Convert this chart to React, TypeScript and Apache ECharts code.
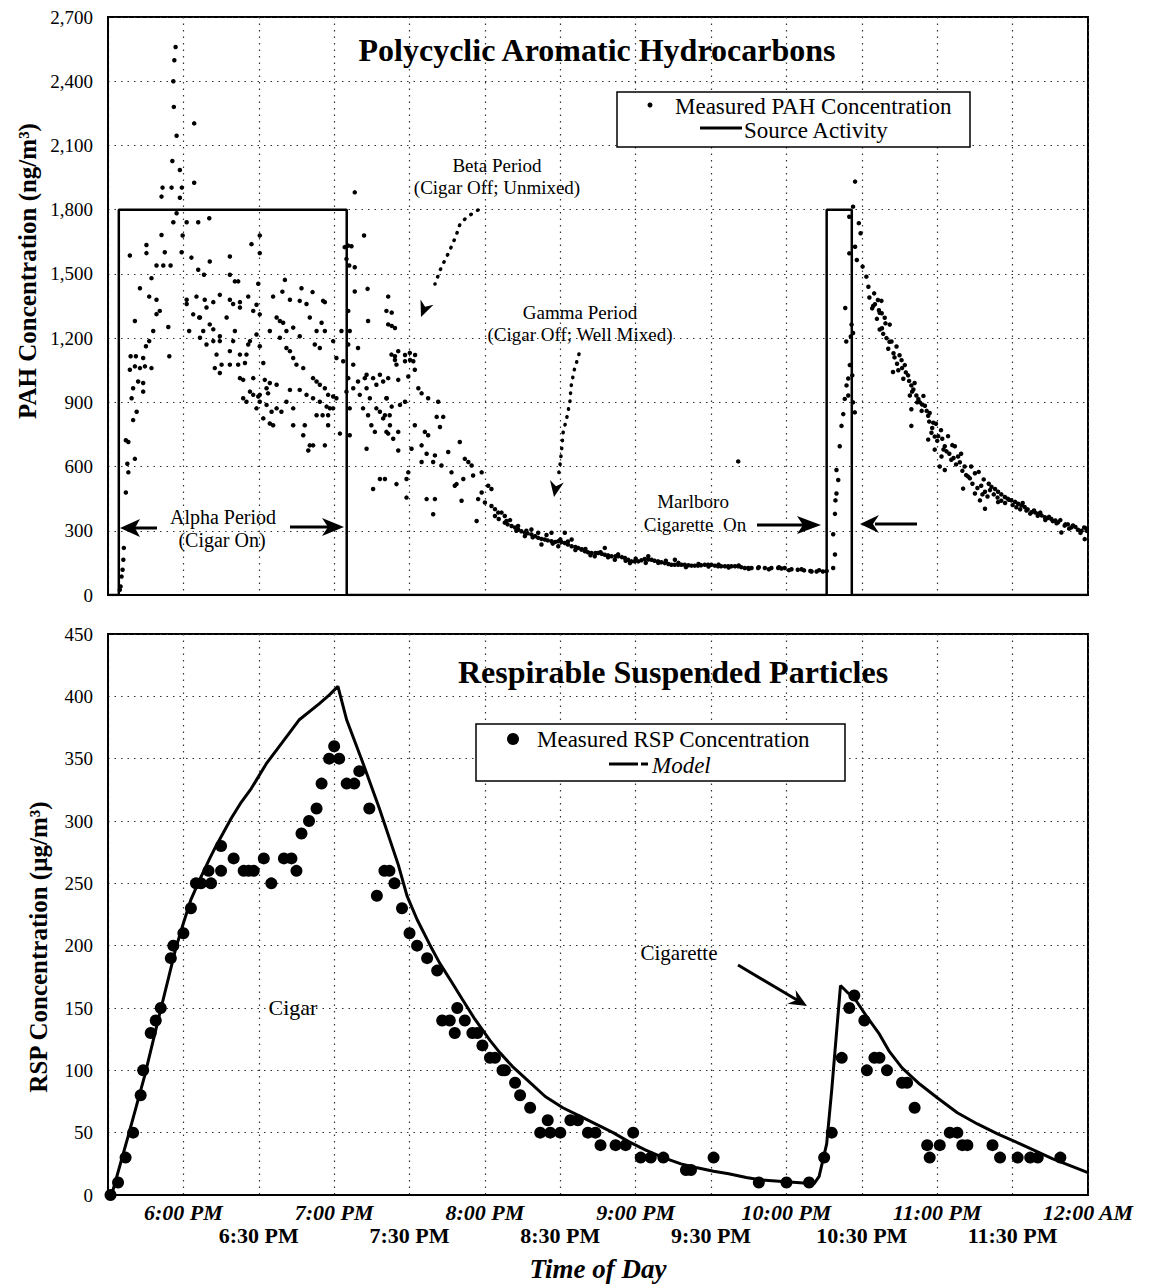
import React, { useEffect, useRef } from "react";
import * as echarts from "echarts";

// Time axis values are minutes after 5:30 PM (0 = 5:30 PM, 390 = 12:00 AM)
const timeTickLabels = ["", "6:00 PM", "6:30 PM", "7:00 PM", "7:30 PM", "8:00 PM", "8:30 PM", "9:00 PM", "9:30 PM", "10:00 PM", "10:30 PM", "11:00 PM", "11:30 PM", "12:00 AM"];
const pahTickLabels = ["0", "300", "600", "900", "1,200", "1,500", "1,800", "2,100", "2,400", "2,700"];
const rspTickLabels = ["0", "50", "100", "150", "200", "250", "300", "350", "400", "450"];

// Measured PAH concentration (ng/m3): [minutes after 5:30 PM, value]
const pahAlpha: number[][] = [
  [4.7,24],[5.0,40],[5.4,86],[5.8,118],[6.1,165],[6.3,220],
  [7.1,479],[8.1,573],[7.7,613],[10.7,636],[7.1,723],[8.1,715],[10.0,817],[11.4,856],[9.4,919],[10.0,966],
  [8.7,1052],[10.7,1068],[12.7,1060],[14.7,1068],[17.3,1060],[12.0,997],[14.0,990],[14.0,950],[9.0,1115],[11.1,1115],[10.7,1280],[14.0,1107],[15.1,1162],[16.4,1186],[18.0,1233],[19.3,1312],[20.6,1327],[24.4,1115],[24.0,1252],
  [8.7,1586],[12.7,1433],[16.4,1394],[19.3,1379],[17.3,1480],[15.3,1635],[15.3,1597],[19.3,1539],[22.0,1539],[24.9,1539],[21.3,1682],[22.6,1601],
  [21.7,1903],[25.3,1903],[29.4,1903],[34.3,1926],[21.3,1861],[28.6,1856],[27.3,1783],[26.0,1741],[31.3,1741],[35.9,1741],[40.3,1760],[29.7,1679],[29.3,1601],[33.2,1576],[40.5,1558],
  [26.9,2560],[26.4,2498],[26.0,2400],[26.2,2280],[34.3,2203],[27.3,2145],[25.6,2027],[28.6,1985],
  [48.5,1581],[57.1,1639],[60.4,1679],[60.4,1597],[35.9,1519],[38.2,1496],[48.5,1496],[50.5,1465],[51.8,1465],[59.8,1454],[70.4,1472],[77.0,1433],[81.4,1415],[86.3,1368],
  [31.3,1379],[35.2,1394],[38.5,1379],[41.9,1368],[44.5,1402],[48.5,1379],[52.5,1368],[55.8,1394],[59.1,1356],[65.7,1394],[69.4,1417],[72.4,1379],
  [32.3,1233],[36.3,1296],[37.9,1233],[41.9,1241],[44.5,1209],[43.2,1123],[45.2,1076],[42.5,1060],[44.5,1037],[48.5,1139],[50.5,1233],[52.5,1123],[55.1,1123],[51.8,1076],[54.5,1084],[55.8,1170],[59.1,1217],[53.8,1005],[57.8,1013],[61.8,1084],[62.4,1005],[64.4,990],[63.1,966],[63.7,942],[60.4,935],[67.1,982],[69.7,1272],[73.7,1249],[71.0,1154],[73.7,1107],[75.0,1076],[77.7,1060],[76.3,1209],[80.3,1296],[82.3,1170],[84.3,1154],[85.0,1272],[86.3,1233],[84.3,982],[86.3,966],[87.6,935],[89.6,1186],[90.9,1107],[93.6,1092],[92.9,1233],[81.6,1013],[83.0,997],[76.3,958],[79.0,935],[72.4,958],[71.0,903],[73.7,872],[67.1,872],[69.0,856],[63.1,888],[65.1,856],[60.4,903],[57.8,935],[59.8,927],[61.8,825],[64.4,801],[65.7,793],[59.1,872],[55.1,903],[53.8,919],[56.5,950],[52.5,1013],[48.5,1076],[73.7,793],[77.7,746],[78.3,793],[80.3,699],[81.6,699],[86.3,699],[79.7,675],[81.6,919],[84.3,903],[83.0,840],[85.4,840],[87.6,840],[88.3,872],[89.6,872],[87.6,793],[92.3,754],[89.6,927],[90.9,919],[87.0,880],
  [31.3,1359],[33.9,1311],[36.6,1296],[39.2,1343],[49.8,1359],[52.5,1343],[57.8,1327],[60.4,1311],[67.1,1296],[68.4,1280],[76.3,1374],[79.0,1359],[85.6,1374],[41.9,1186],[44.5,1186],[36.6,1202],[39.2,1170],[49.8,1186],[56.5,1186],[60.4,1162],[68.4,1202],[72.4,1139],[40.5,1264],[47.2,1296],[64.4,1233],[71.0,1233],[83.0,1233]
];
const pahBeta: number[][] = [
  [98.2,1881],[98.2,1418],[101.9,1679],[95.6,1632],[96.9,1629],[94.2,1625],[94.9,1570],[96.0,1539],[98.2,1531],[103.3,1430],[111.5,1394],
  [95.6,1327],[96.2,1233],[95.6,1170],[97.6,1076],[95.6,1013],[94.9,950],[96.2,872],[97.6,966],[99.5,997],[100.2,935],[102.2,1013],[102.9,966],[104.2,919],[101.5,872],[103.5,840],[104.8,793],[106.2,762],[106.8,872],[108.2,856],[109.5,825],[110.8,919],[112.1,840],[110.8,762],[113.5,730],[109.5,997],[108.2,1029],[112.8,1123],[114.8,1076],[111.5,1264],[103.5,1280],[110.8,1327],[99.5,1154],[102.9,1029],[96.2,746],[102.9,683],[105.5,495],[108.2,542],[114.8,518],[106.8,982],[105.5,1013],
  [114.2,1247],[118.2,1121],[120.2,1098],[122.2,1121],[114.2,1098],
  [112.9,1319],[112.9,1257],[115.5,1139],[120.1,1131],[121.5,1092],[122.1,1052],[114.2,1115],[118.2,1092],[111.5,1013],[115.5,1005],[119.5,1021],[123.5,966],[124.8,942],[127.4,919],[131.4,903],[110.9,919],[112.9,880],[116.2,888],[118.2,903],[110.2,840],[112.2,793],[111.5,754],[115.5,762],[122.1,793],[126.1,762],[127.4,746],[132.1,785],[133.4,832],[130.8,832],[115.5,675],[120.8,683],[124.8,699],[126.8,660],[130.1,652],[135.4,668],[140.0,715],[142.0,636],[143.4,621],[124.8,621],[129.4,621],[132.7,605],[136.7,573],[138.7,518],[141.4,542],[144.7,605],[145.3,558],[148.7,573],[110.2,542],[118.8,542],[119.5,573],[118.8,455],[126.8,448],[130.1,448],[138.0,510],[140.7,440],[129.4,377],[146.7,346],[151.3,510],[152.6,495],[150.0,432],[152.6,416],[155.3,385],[157.9,369],[147.3,448],[148.7,479]
];
const pahGamma: number[][] = [
  [154,369],[157.9,338],[160.6,322],[163.2,306],[165.9,291],[168.5,283],[171.2,267],[173.8,259],[176.5,251],[179.2,251],[181.8,243],[184.5,228],[187.1,220],[189.8,204],[192.4,196],[195.1,196],[197.7,188],[200.4,181],[203,181],[205.7,173],[208.3,157],[211,157],[213.6,168],[216.3,165],[218.9,157],[221.6,149],[224.2,141],[226.9,141],[229.5,141],[232.2,137],[234.8,137],[237.5,141],[240.1,141],[242.8,134],[245.5,134],[248.1,134],[250.8,134],[253.4,126],[256.1,126],[261.4,126],[266.7,126],[269.3,126],
  [154,401],[156.6,385],[158.6,346],[163.2,322],[165.9,275],[168.5,306],[171.2,291],[172.5,236],[176.5,291],[179.2,228],[181.8,291],[184.5,259],[188.4,212],[193.7,181],[197.7,220],[201.7,165],[207.7,149],[215,181],[225.6,165],[250.8,624],
  [155.5,355],[159,330],[162,315],[164.5,298],[167,288],[170,275],[172.5,262],[175,255],[178,248],[180.5,247],[183,236],[186,224],[188.5,214],[191,200],[194,196],[196.5,192],[199,185],[202,181],[204.5,177],[207,165],[209.5,157],[212.3,162],[215,166],[217.5,160],[220.2,153],[223,145],[225.5,141],[228.2,141],[231,139],[233.5,137],[236,139],[238.8,141],[241.5,137],[244,134],[246.8,134],[249.5,134],[252,130],[254.8,126],[258.7,126],[264,126],[268,124],
  [160,350],[162.5,300],[166.5,300],[169,270],[174.5,280],[177,240],[180,260],[183,250],[186,210],[190,215],[192,186],[196,200],[199,176],[203,190],[206,160],[210,170],[214,150],[219,150],[222,160],[227,150],[230,130],[235,145],[239,133],[243,142],[247,128],[251,138],[255,122],[259,130],[263,120],[267,130],[271,116],[276,120],[280,110],[283,116],
  [272,120],[274.5,118],[277,115],[279.5,112],[282,110],[284.5,110],[286,112]
];
const pahCigarette: number[][] = [
  [288.6,126],[289.3,189],[288.6,284],[289.3,379],[289.9,474],[290.6,537],[289.5,442],[289.9,584],[291.2,695],[291.9,790],[292.6,845],[293.2,916],[293.9,979],[294.6,1011],[296.2,1026],[295.2,1074],[294.6,932],[296.5,900],[297.2,853],[295.6,1208],[296.5,1224],[295.9,1263],[295,1767],[295,1596],[293.4,1341],[293.8,1184],
  [297.3,1931],[296.5,1814],[298.8,1737],[299.5,1690],[297.3,1627],[298,1565],[300.3,1534],[301.8,1487],[302.6,1440],[304.9,1409],[306.4,1378],[304.1,1339],[307.9,1316],[309.4,1269],[308,1246],[311,1183],[312.6,1129],
  [305.2,1358],[307.8,1374],[307.1,1318],[309.1,1295],[307.1,1240],[311.1,1263],[311.8,1184],[313.8,1161],[312.4,1042],[315.8,1097],[317.1,1074],[318.4,1026],[319.7,979],[319.1,932],[321.7,932],[323.1,900],[325.1,884],[319.7,868],[326.4,837],[328.4,805],[327.7,758],[319.7,790],[326.4,726],[330.4,742],[333,695],[334.3,742],[337,695],[331.7,647],[335.6,632],[338.3,647],[340.9,600],[333,584],[342.3,553],[345,569],[340.3,497],[345,474],[347,442],[349,482],[351.6,505],[354.2,482],[356.9,458],[359.5,442],[362.2,426],[364.8,411],[367.5,387],[370.1,379],[372.8,363],[375.4,355],[378.1,340],[380.7,324],[379.4,292],[383.4,316],[387.4,300],[388.7,261],[349,403],[354.2,434],[333.7,671],[331,600],[329,679],
  [314.5,1050],[316.5,1010],[320.5,960],[322.5,915],[324,890],[327,850],[329.5,800],[331.5,770],[336,700],[339.5,660],[343.5,600],[346.5,575],[348.5,540],[350.5,520],[353,495],[355.5,470],[358,450],[361,435],[363.5,418],[366,400],[369,385],[371.5,372],[374,360],[377,348],[382,330],[385,318],[389.5,310],
  [303,1390],[304.5,1350],[306,1290],[306.8,1330],[308.5,1220],[309.8,1200],[310.5,1150],[313,1110],[314,1080],[315,1120],[316,1060],[317.5,1040],[318.8,1000],[320,950],[321,990],[322,900],[323.8,860],[324.5,930],[325.8,860],[326.8,810],[328,780],[329,740],[330,720],[332,730],[332.5,680],[334.8,660],[336.5,640],[337.5,610],[339,620],[340,580],[341.5,560],[343,545],[344,520],[346,500],[347.5,510],[348,470],[350,460],[351,490],[352.5,470],[354,455],[355.5,440],[357,430],[358.5,445],[360,420],[361.5,410],[363,400],[364,430],[365.5,395],[367,380],[368.5,395],[370,370],[371,385],[373,350],[374.5,365],[376,345],[377.5,335],[379,350],[381,330],[382.5,310],[384,325],[386,305],[387,290],[388.5,315],[389.5,300]
];

// Source activity step (ng/m3 scale)
const sourceActivity: number[][] = [[0,0],[4.3,0],[4.3,1800],[95,1800],[95,0],[286,0],[286,1800],[296,1800],[296,0],[390,0]];

// Measured RSP concentration (ug/m3)
const rspMeasured: number[][] = [
  [1,0],[4,10],[7,30],[10,50],[13,80],[14,100],[17,130],[19,140],[21,150],[25,190],[26,200],[30,210],[33,230],[35,250],[37,250],[40,260],[41,250],[45,260],[45,280],[50,270],[54,260],[56,260],[58,260],[62,270],[65,250],[70,270],[73,270],[75,260],[77,290],[80,300],[83,310],[85,330],[88,350],[90,360],[92,350],[95,330],[98,330],[100,340],[104,310],[107,240],[110,260],[112,260],[114,250],[117,230],[120,210],[123,200],[127,190],[131,180],[133,140],[136,140],[138,130],[139,150],[142,140],[145,130],[147,130],[149,120],[152,110],[154,110],[157,100],[158,100],[162,90],[164,80],[168,70],[172,50],[175,60],[176,50],[180,50],[184,60],[187,60],[191,50],[194,50],[196,40],[202,40],[206,40],[209,50],[212,30],[216,30],[221,30],[230,20],[232,20],[241,30],[259,10],[270,10],[279,10],[285,30],[288,50],[292,110],[295,150],[297,160],[301,140],[302,100],[305,110],[307,110],[310,100],[316,90],[318,90],[321,70],[326,40],[327,30],[331,40],[335,50],[338,50],[340,40],[342,40],[352,40],[355,30],[362,30],[367,30],[370,30],[379,30]
];

// Model curve (ug/m3)
const rspModel: number[][] = [
  [1,0],[2,4],[8,47],[14.5,95],[21,149],[27,198],[30,218],[33,237],[36.5,253],[40.5,270],[43,280],[46,291],[49,302],[53,315],[57,326],[63,346],[69,362],[76,381],[84,394],[88,401],[91.5,408],[95,381],[101,349],[108,310],[115.5,265],[119,240],[123,221],[128,201],[132,186],[137,170],[141,157],[146,141],[152,124],[156,114],[161,103],[167,92],[174,79],[181,70],[188,63],[195,56],[201,50],[207,43],[214,36],[221,30],[228,25],[234,22],[241,19],[247,17],[254,14],[260,12],[267,11],[274,10],[281,9],[283,15],[286,41],[288,84],[291.5,168],[294,163],[297,158],[302,143],[307,129],[311,115],[316,102],[323,89],[330,78],[338,66],[346,57],[354,49],[363,41],[376,29],[390,18]
];

const FONT = "'Liberation Serif', 'Times New Roman', serif";

function txt(text: string, x: number, y: number, size: number, o: any = {}) {
  const align = o.align || "center";
  return {
    type: "text", x, y, z: 100, rotation: o.rotation || 0,
    style: {
      text, fill: "#000", fontSize: size, fontFamily: FONT,
      fontWeight: o.bold ? "bold" : "normal", fontStyle: o.italic ? "italic" : "normal",
      align, verticalAlign: "middle", textAlign: align, textVerticalAlign: "middle",
    },
  };
}
function seg(x1: number, y1: number, x2: number, y2: number, w = 3) {
  return { type: "line", z: 100, shape: { x1, y1, x2, y2 }, style: { stroke: "#000", lineWidth: w } };
}
function head(points: number[][]) {
  return { type: "polygon", z: 100, shape: { points }, style: { fill: "#000" } };
}
function dotted(points: number[][]) {
  return { type: "polyline", z: 100, shape: { points }, style: { stroke: "#000", fill: null, lineWidth: 3.5, lineDash: [0.5, 7.5], lineCap: "round" } };
}

const gridLine = { show: true, lineStyle: { color: "#333", width: 1.2, type: [1.5, 5] as any } };

export default function App() {
  const ref = useRef<HTMLDivElement>(null);
  useEffect(() => {
    const chart = echarts.init(ref.current!, null, { renderer: "svg" });
    const labelFmt = (row: number) => (v: number) => {
      const i = Math.round(v / 30);
      const s = timeTickLabels[i];
      if (!s) return "";
      return (i % 2 === 1 ? 1 : 2) === row ? s : "";
    };
    const option: any = {
      animation: false,
      backgroundColor: "#fff",
      textStyle: { fontFamily: FONT, color: "#000" },
      grid: [
        { left: 108, top: 17, width: 980, height: 578, show: true, borderColor: "#000", borderWidth: 2 },
        { left: 108, top: 634, width: 980, height: 561, show: true, borderColor: "#000", borderWidth: 2 },
      ],
      xAxis: [
        {
          type: "value", gridIndex: 0, min: 0, max: 390, interval: 30,
          axisLabel: { show: false }, axisTick: { show: false },
          axisLine: { lineStyle: { color: "#000", width: 2 } }, splitLine: gridLine,
        },
        {
          // hourly labels (first row, italic)
          type: "value", gridIndex: 1, min: 0, max: 390, interval: 30, position: "bottom",
          axisTick: { show: false },
          axisLine: { lineStyle: { color: "#000", width: 2 } }, splitLine: gridLine,
          axisLabel: {
            margin: 6, fontSize: 22, fontWeight: "bold", fontStyle: "italic", color: "#000", fontFamily: FONT,
            showMaxLabel: true, showMinLabel: true, hideOverlap: false, formatter: labelFmt(1),
          },
          name: "Time of Day", nameLocation: "middle", nameGap: 60,
          nameTextStyle: { fontSize: 27, fontWeight: "bold", fontStyle: "italic", fontFamily: FONT, color: "#000" },
        },
        {
          // half-hour labels (second row, upright)
          type: "value", gridIndex: 1, min: 0, max: 390, interval: 30, position: "bottom", offset: 23,
          axisTick: { show: false }, axisLine: { show: false }, splitLine: { show: false },
          axisLabel: {
            margin: 6, fontSize: 22, fontWeight: "bold", color: "#000", fontFamily: FONT,
            showMaxLabel: true, showMinLabel: true, hideOverlap: false, formatter: labelFmt(2),
          },
        },
      ],
      yAxis: [
        {
          type: "value", gridIndex: 0, min: 0, max: 2700, interval: 300,
          axisLine: { show: true, lineStyle: { color: "#000", width: 2 } }, axisTick: { show: false },
          axisLabel: { margin: 15, fontSize: 19, color: "#000", fontFamily: FONT, formatter: (v: number) => pahTickLabels[Math.round(v / 300)] },
          splitLine: gridLine,
        },
        {
          type: "value", gridIndex: 1, min: 0, max: 450, interval: 50,
          axisLine: { show: true, lineStyle: { color: "#000", width: 2 } }, axisTick: { show: false },
          axisLabel: { margin: 15, fontSize: 19, color: "#000", fontFamily: FONT, formatter: (v: number) => rspTickLabels[Math.round(v / 50)] },
          splitLine: gridLine,
        },
      ],
      series: [
        { name: "Measured PAH Concentration", type: "scatter", xAxisIndex: 0, yAxisIndex: 0, symbol: "circle", symbolSize: 4.5, itemStyle: { color: "#000", opacity: 1 }, data: [...pahAlpha, ...pahBeta, ...pahGamma, ...pahCigarette], z: 3 },
        { name: "Source Activity", type: "line", xAxisIndex: 0, yAxisIndex: 0, showSymbol: false, symbol: "none", lineStyle: { color: "#000", width: 2.5 }, data: sourceActivity, z: 4 },
        { name: "Measured RSP Concentration", type: "scatter", xAxisIndex: 1, yAxisIndex: 1, symbol: "circle", symbolSize: 12, itemStyle: { color: "#000", opacity: 1 }, data: rspMeasured, z: 3 },
        { name: "Model", type: "line", xAxisIndex: 1, yAxisIndex: 1, showSymbol: false, symbol: "none", lineStyle: { color: "#000", width: 3 }, data: rspModel, z: 4 },
      ],
      graphic: {
        elements: [
          // Axis titles
          txt("PAH Concentration (ng/m³)", 27, 271, 25, { bold: true, rotation: Math.PI / 2 }),
          txt("RSP Concentration (µg/m³)", 38, 947, 25, { bold: true, rotation: Math.PI / 2 }),
          // Top panel
          txt("Polycyclic Aromatic Hydrocarbons", 597, 50, 32, { bold: true }),
          { type: "rect", z: 99, shape: { x: 617, y: 92, width: 353, height: 55 }, style: { fill: "#fff", stroke: "#000", lineWidth: 1.5 } },
          { type: "circle", z: 100, shape: { cx: 650, cy: 105, r: 2.5 }, style: { fill: "#000" } },
          txt("Measured PAH Concentration", 675, 106, 23, { align: "left" }),
          seg(700, 128, 742, 128, 3),
          txt("Source Activity", 744, 130, 23, { align: "left" }),
          txt("Beta Period", 497, 165, 19),
          txt("(Cigar Off; Unmixed)", 497, 187, 19),
          dotted([[478, 210], [467, 217], [460, 224], [456, 236], [449, 252], [441, 268], [435, 284]]),
          head([[421, 317], [420.5, 299.6], [425.1, 306.8], [433.5, 304.8]]),
          txt("Gamma Period", 580, 312, 19),
          txt("(Cigar Off; Well Mixed)", 580, 334, 19),
          dotted([[579, 354], [574, 371], [571, 387], [570, 401], [567, 417], [563, 433], [561.7, 449], [560, 465], [558, 478]]),
          head([[554, 497], [550, 480], [556, 486.2], [563.8, 482.6]]),
          txt("Alpha Period", 223, 517, 20),
          txt("(Cigar On)", 222, 540, 20),
          seg(157, 528, 132, 528, 3),
          head([[120, 528], [140, 519], [135, 528], [140, 537]]),
          seg(290, 527, 330, 527, 3),
          head([[344, 527], [322, 518], [328, 527], [322, 536]]),
          txt("Marlboro", 693, 501, 19),
          txt("Cigarette  On", 695, 524, 19),
          seg(757, 525, 805, 525, 3),
          head([[821, 525], [797, 516], [803, 525], [797, 534]]),
          seg(917, 524, 875, 524, 3),
          head([[860, 524], [879, 515], [873, 524], [879, 533]]),
          // Bottom panel
          txt("Respirable Suspended Particles", 673, 672, 32, { bold: true }),
          { type: "rect", z: 99, shape: { x: 476, y: 724, width: 369, height: 57 }, style: { fill: "#fff", stroke: "#000", lineWidth: 1.5 } },
          { type: "circle", z: 100, shape: { cx: 513, cy: 739, r: 6 }, style: { fill: "#000" } },
          txt("Measured RSP Concentration", 537, 739, 23, { align: "left" }),
          seg(609, 764, 638, 764, 3),
          seg(641, 764, 648, 764, 3),
          txt("Model", 652, 765, 23, { align: "left", italic: true }),
          txt("Cigar", 293, 1007, 22),
          txt("Cigarette", 679, 953, 21),
          seg(738, 965, 797, 1000, 3),
          head([[807, 1006], [795.6, 989.9], [796.7, 999.9], [787.4, 1003.7]]),
        ],
      },
    };
    chart.setOption(option);
    return () => chart.dispose();
  }, []);
  return <div ref={ref} style={{ position: "fixed", left: 0, top: 0, width: 1150, height: 1284, background: "#fff" }} />;
}
